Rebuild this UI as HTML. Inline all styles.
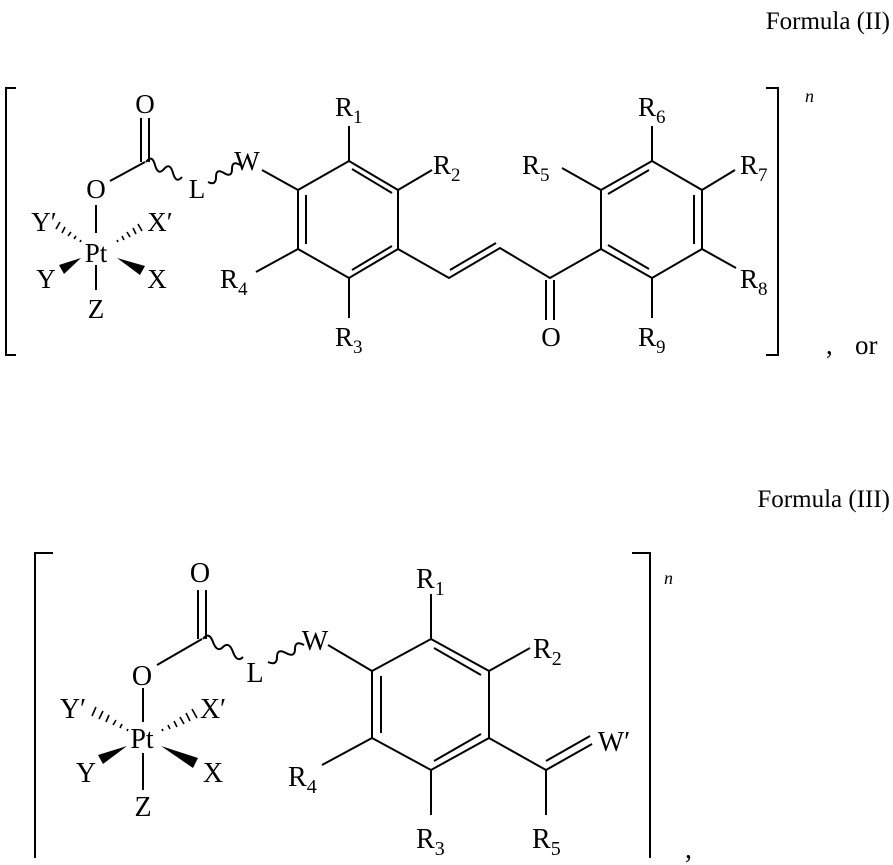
<!DOCTYPE html>
<html><head><meta charset="utf-8"><style>
html,body{margin:0;padding:0;background:#fff}
svg{display:block}
text{font-family:"Liberation Serif",serif;fill:#000}
</style></head><body>
<svg width="893" height="865" viewBox="0 0 893 865" xmlns="http://www.w3.org/2000/svg">
<g stroke="#000" stroke-width="2" fill="none" stroke-linecap="butt">
<!-- ===== Formula II ===== -->
<polyline points="16,88 6,88 6,355 16,355"/>
<polyline points="766,88 778,88 778,355 766,355"/>
<polygon points="349,161 398,190 398,249 349,278 298,249 298,190"/>
<line x1="352" y1="169" x2="392" y2="193"/>
<line x1="352" y1="270" x2="392" y2="246"/>
<line x1="306" y1="195" x2="306" y2="244"/>
<line x1="349" y1="161" x2="349" y2="126"/>
<line x1="398" y1="190" x2="432" y2="170"/>
<line x1="298" y1="249" x2="256" y2="272"/>
<line x1="349" y1="278" x2="349" y2="318"/>
<line x1="298" y1="190" x2="262" y2="170"/>
<polyline points="398,249 449,278 500,248 550,278 601,249"/>
<line x1="450" y1="270" x2="496" y2="243"/>
<line x1="546" y1="280" x2="546" y2="320"/>
<line x1="554" y1="280" x2="554" y2="320"/>
<polygon points="601,249 601,190 652,161 702,190 702,249 652,278"/>
<line x1="608" y1="194" x2="649" y2="170"/>
<line x1="694" y1="195" x2="694" y2="244"/>
<line x1="608" y1="245" x2="649" y2="269"/>
<line x1="652" y1="161" x2="652" y2="126"/>
<line x1="702" y1="190" x2="735" y2="170"/>
<line x1="601" y1="190" x2="562" y2="168"/>
<line x1="702" y1="249" x2="736" y2="268"/>
<line x1="652" y1="278" x2="652" y2="318"/>
<line x1="141" y1="162" x2="141" y2="118"/>
<line x1="149" y1="162" x2="149" y2="118"/>
<line x1="145" y1="162" x2="110" y2="181"/>
<path d="M146,162 q6,-8 9,3 t9,4 t9,4 t9,4"/>
<path d="M208,182 q8,4 8,-5 t8,-4 t8,-4 t8,-4"/>
<line x1="96" y1="205" x2="96" y2="233"/>
<line x1="96" y1="265" x2="96" y2="290"/>
<!-- ===== Formula III ===== -->
<polyline points="53,553 35,553 35,858"/>
<polyline points="632,553 650,553 650,858"/>
<polygon points="431,639 489,671 489,738 431,770 372,738 372,671"/>
<line x1="434" y1="648" x2="481" y2="675"/>
<line x1="381" y1="676" x2="381" y2="733"/>
<line x1="434" y1="761" x2="481" y2="734"/>
<line x1="431" y1="639" x2="431" y2="594"/>
<line x1="489" y1="671" x2="530" y2="648"/>
<line x1="431" y1="770" x2="431" y2="815"/>
<line x1="372" y1="738" x2="322" y2="765"/>
<line x1="372" y1="671" x2="328" y2="645"/>
<line x1="489" y1="738" x2="546" y2="770"/>
<line x1="546" y1="770" x2="592" y2="744"/>
<line x1="546" y1="761" x2="590" y2="736"/>
<line x1="546" y1="770" x2="546" y2="815"/>
<line x1="198" y1="639" x2="198" y2="590"/>
<line x1="206" y1="639" x2="206" y2="590"/>
<line x1="202" y1="639" x2="157" y2="665"/>
<path d="M203,639 q6,-8 10,3 t10,5 t10,5 t10,5"/>
<path d="M268,662 q9,4 9,-5 t9,-4 t9,-4 t9,-4"/>
<line x1="143" y1="688" x2="143" y2="722"/>
<line x1="143" y1="753" x2="143" y2="790"/>
</g>
<g stroke="#000" stroke-width="1.6">
<line x1="80" y1="242" x2="81" y2="240"/><line x1="74" y1="239" x2="76" y2="236"/><line x1="68" y1="236" x2="71" y2="232"/><line x1="62" y1="233" x2="65" y2="227"/><line x1="56" y1="229" x2="60" y2="222"/>
<line x1="117" y1="240" x2="118" y2="242"/><line x1="122" y1="236" x2="124" y2="240"/><line x1="127" y1="232" x2="130" y2="237"/><line x1="133" y1="228" x2="136" y2="234"/><line x1="138" y1="224" x2="142" y2="231"/>
<line x1="127" y1="731" x2="128" y2="729"/><line x1="120" y1="728" x2="122" y2="724"/><line x1="113" y1="725" x2="116" y2="720"/><line x1="106" y1="722" x2="109" y2="715"/><line x1="99" y1="719" x2="103" y2="711"/><line x1="92" y1="716" x2="96" y2="707"/>
<line x1="162" y1="729" x2="163" y2="731"/><line x1="168" y1="725" x2="170" y2="729"/><line x1="174" y1="721" x2="177" y2="727"/><line x1="180" y1="717" x2="184" y2="724"/><line x1="186" y1="713" x2="190" y2="721"/><line x1="192" y1="709" x2="197" y2="718"/>
</g>
<g fill="#000">
<polygon points="81,258 59,265 64,274"/>
<polygon points="117,258 140,275 145,266"/>
<polygon points="127,746 98,755 103,764"/>
<polygon points="161,746 193,768 198,758"/>
</g>
<text x="890" y="29" font-size="25" text-anchor="end">Formula (II)</text>
<text x="890" y="507" font-size="25" text-anchor="end">Formula (III)</text>
<g font-size="27" text-anchor="middle">
<text x="145" y="113">O</text>
<text x="96" y="198">O</text>
<text x="96" y="262">Pt</text>
<text x="96" y="318">Z</text>
<text x="44" y="231">Y′</text>
<text x="160" y="231">X′</text>
<text x="46" y="288">Y</text>
<text x="157" y="288">X</text>
<text x="197" y="198">L</text>
<text x="247" y="170">W</text>
<text x="551" y="346">O</text>
</g>
<g font-size="27">
<text x="335" y="116">R<tspan font-size="19" dy="7">1</tspan></text>
<text x="433" y="174">R<tspan font-size="19" dy="7">2</tspan></text>
<text x="220" y="288">R<tspan font-size="19" dy="7">4</tspan></text>
<text x="335" y="346">R<tspan font-size="19" dy="7">3</tspan></text>
<text x="522" y="174">R<tspan font-size="19" dy="7">5</tspan></text>
<text x="638" y="116">R<tspan font-size="19" dy="7">6</tspan></text>
<text x="740" y="174">R<tspan font-size="19" dy="7">7</tspan></text>
<text x="740" y="288">R<tspan font-size="19" dy="7">8</tspan></text>
<text x="638" y="346">R<tspan font-size="19" dy="7">9</tspan></text>
<text x="805" y="102" font-size="18" font-style="italic">n</text>
<text x="826" y="354">,</text>
<text x="855" y="354">or</text>
</g>
<g font-size="28" text-anchor="middle">
<text x="200" y="582">O</text>
<text x="142" y="685">O</text>
<text x="142" y="748">Pt</text>
<text x="143" y="816">Z</text>
<text x="73" y="718">Y′</text>
<text x="213" y="718">X′</text>
<text x="86" y="782">Y</text>
<text x="213" y="782">X</text>
<text x="255" y="682">L</text>
<text x="315" y="650">W</text>
<text x="614" y="751">W′</text>
</g>
<g font-size="28">
<text x="416" y="588">R<tspan font-size="20" dy="7">1</tspan></text>
<text x="533" y="658">R<tspan font-size="20" dy="7">2</tspan></text>
<text x="288" y="786">R<tspan font-size="20" dy="7">4</tspan></text>
<text x="416" y="848">R<tspan font-size="20" dy="7">3</tspan></text>
<text x="532" y="848">R<tspan font-size="20" dy="7">5</tspan></text>
<text x="664" y="584" font-size="18" font-style="italic">n</text>
<text x="685" y="858">,</text>
</g>
</svg>
</body></html>
